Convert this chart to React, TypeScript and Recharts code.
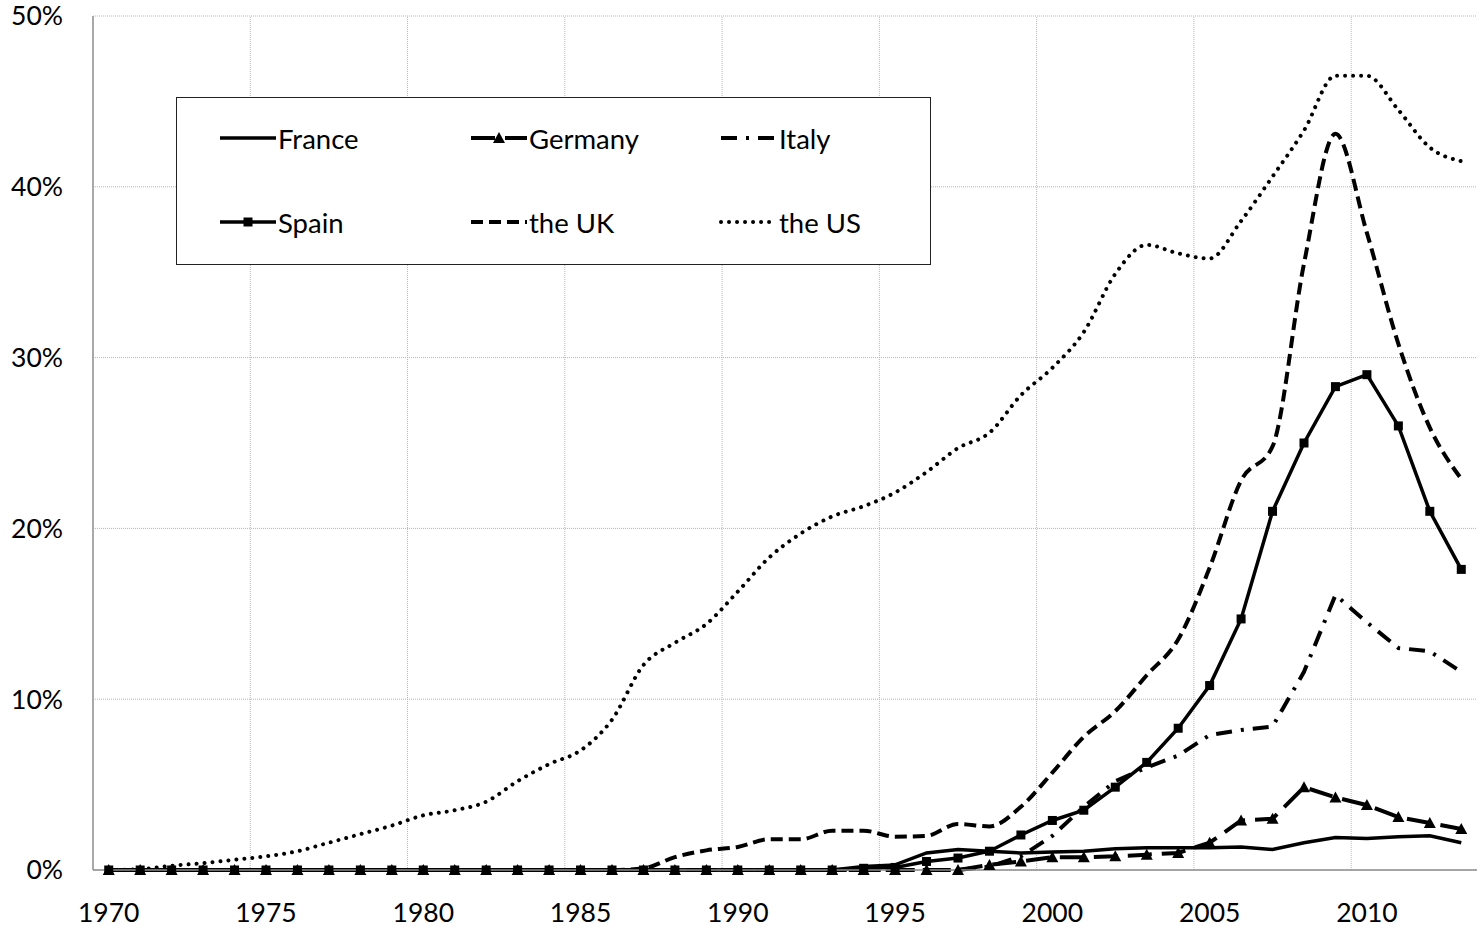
import { LineChart, Line, XAxis, YAxis, CartesianGrid, ReferenceLine, Legend } from "recharts";

const years = [
  1970, 1971, 1972, 1973, 1974, 1975, 1976, 1977, 1978, 1979,
  1980, 1981, 1982, 1983, 1984, 1985, 1986, 1987, 1988, 1989,
  1990, 1991, 1992, 1993, 1994, 1995, 1996, 1997, 1998, 1999,
  2000, 2001, 2002, 2003, 2004, 2005, 2006, 2007, 2008, 2009,
  2010, 2011, 2012, 2013
];

// shares in percent, one value per year
const france = [
  0, 0, 0, 0, 0, 0, 0, 0, 0, 0,
  0, 0, 0, 0, 0, 0, 0, 0, 0, 0,
  0, 0, 0, 0, 0.2, 0.3, 1.0, 1.2, 1.1, 1.0,
  1.05, 1.1, 1.25, 1.3, 1.3, 1.3, 1.35, 1.2, 1.6, 1.9,
  1.85, 1.95, 2.0, 1.6
];
const germany = [
  0, 0, 0, 0, 0, 0, 0, 0, 0, 0,
  0, 0, 0, 0, 0, 0, 0, 0, 0, 0,
  0, 0, 0, 0, 0, 0, 0, 0, 0.3, 0.5,
  0.75, 0.75, 0.8, 0.9, 1.0, 1.6, 2.9, 3.0, 4.85, 4.25,
  3.8, 3.1, 2.75, 2.4
];
const italy = [
  0, 0, 0, 0, 0, 0, 0, 0, 0, 0,
  0, 0, 0, 0, 0, 0, 0, 0, 0, 0,
  0, 0, 0, 0, 0, 0, 0, 0, 0.2, 0.8,
  2.0, 3.7, 5.2, 6.0, 6.7, 7.9, 8.2, 8.4, 11.6, 16.1,
  14.5, 13.0, 12.8, 11.6
];
const spain = [
  0, 0, 0, 0, 0, 0, 0, 0, 0, 0,
  0, 0, 0, 0, 0, 0, 0, 0, 0, 0,
  0, 0, 0, 0, 0.1, 0.15, 0.5, 0.7, 1.1, 2.05,
  2.9, 3.5, 4.85, 6.3, 8.3, 10.8, 14.7, 21.0, 25.0, 28.3,
  29.0, 26.0, 21.0, 17.6
];
const uk = [
  0, 0, 0, 0, 0, 0, 0, 0, 0, 0,
  0, 0, 0, 0, 0, 0, 0, 0.1, 0.75, 1.15,
  1.35, 1.8, 1.8, 2.3, 2.3, 1.95, 2.0, 2.7, 2.55, 3.7,
  5.7, 7.8, 9.3, 11.4, 13.5, 17.7, 22.8, 24.8, 35.5, 43.1,
  37.3, 30.8, 25.9, 22.9
];
const us = [
  0, 0.05, 0.25, 0.4, 0.6, 0.8, 1.1, 1.6, 2.1, 2.6,
  3.2, 3.5, 4.0, 5.2, 6.2, 7.0, 8.8, 12.0, 13.3, 14.4,
  16.3, 18.3, 19.7, 20.7, 21.3, 22.1, 23.3, 24.7, 25.6, 27.8,
  29.4, 31.5, 34.9, 36.6, 36.1, 35.8, 38.0, 40.6, 43.3, 46.5,
  46.5, 44.5, 42.3, 41.5
];

const yearTicks = [1970, 1975, 1980, 1985, 1990, 1995, 2000, 2005, 2010];
// Excel puts the vertical gridlines on the category boundaries, half a year left of the label
const gridYears = [1974.5, 1979.5, 1984.5, 1989.5, 1994.5, 1999.5, 2004.5, 2009.5];
const pctTicks = [0, 10, 20, 30, 40, 50];

const data = years.map((year, i) => ({
  year,
  France: france[i],
  Germany: germany[i],
  Italy: italy[i],
  Spain: spain[i],
  "the UK": uk[i],
  "the US": us[i]
}));

const FONT = "Lato, 'Open Sans', sans-serif";

function Square(props: any) {
  const { cx, cy, index } = props;
  if (cx == null || cy == null) return null;
  return <rect key={`sq-${index}`} x={cx - 4.5} y={cy - 4.5} width={9} height={9} fill="#000" />;
}

function Triangle(props: any) {
  const { cx, cy, index } = props;
  if (cx == null || cy == null) return null;
  return (
    <polygon
      key={`tr-${index}`}
      points={`${cx},${cy - 6} ${cx + 6},${cy + 5} ${cx - 6},${cy + 5}`}
      fill="#000"
    />
  );
}

type Series = {
  key: string;
  dash?: string;
  width: number;
  cap?: "round" | "butt";
  curve: "linear" | "monotone";
  marker?: "square" | "triangle";
};

// draw order: Germany under Spain so the squares cover the zero triangles
const SERIES: Series[] = [
  { key: "the US", dash: "0.01 8", width: 4, cap: "round", curve: "monotone" },
  { key: "the UK", dash: "12 6", width: 4, curve: "monotone" },
  { key: "Italy", dash: "16 9 3 9", width: 4, curve: "linear" },
  { key: "Germany", dash: "24 10", width: 4, curve: "linear", marker: "triangle" },
  { key: "France", width: 3.5, curve: "linear" },
  { key: "Spain", width: 3.5, curve: "linear", marker: "square" }
];

const LEGEND_ORDER = ["France", "Germany", "Italy", "Spain", "the UK", "the US"];

function LegendBox() {
  const colX = [43, 294, 544];
  const rowY = [40, 124];
  return (
    <div
      style={{
        width: 755,
        height: 168,
        boxSizing: "border-box",
        border: "1.5px solid #222",
        background: "#fff"
      }}
    >
      <svg width={752} height={165}>
        {LEGEND_ORDER.map((name, i) => {
          const s = SERIES.find((x) => x.key === name)!;
          const x0 = colX[i % 3];
          const y = rowY[Math.floor(i / 3)];
          return (
            <g key={name}>
              <line
                x1={x0}
                x2={x0 + 56}
                y1={y}
                y2={y}
                stroke="#000"
                strokeWidth={s.width}
                strokeDasharray={s.dash}
                strokeLinecap={s.cap || "butt"}
              />
              {s.marker === "square" && <Square cx={x0 + 28} cy={y} index={0} />}
              {s.marker === "triangle" && <Triangle cx={x0 + 28} cy={y} index={0} />}
              <text
                x={x0 + 58}
                y={y}
                dominantBaseline="central"
                fontFamily={FONT}
                fontSize={27.5}
                fill="#000"
              >
                {name}
              </text>
            </g>
          );
        })}
      </svg>
    </div>
  );
}

export default function App() {
  return (
    <div style={{ position: "absolute", left: 0, top: 0, background: "#fff" }}>
      <LineChart
        width={1484}
        height={933}
        data={data}
        margin={{ top: 16, right: 7, bottom: 0, left: 0 }}
      >
        <CartesianGrid vertical={false} stroke="#b5b5b5" strokeDasharray="1 1" />
        {gridYears.map((g) => (
          <ReferenceLine key={g} x={g} stroke="#b5b5b5" strokeDasharray="1 1" />
        ))}
        <XAxis
          dataKey="year"
          type="number"
          domain={[1969.5, 2013.5]}
          ticks={yearTicks}
          interval={0}
          allowDataOverflow
          height={63}
          tickLine={false}
          tickSize={0}
          tickMargin={33}
          axisLine={{ stroke: "#8c8c8c", strokeWidth: 1.5 }}
          tick={{ fill: "#000", fontSize: 26.5, fontFamily: FONT }}
        />
        <YAxis
          domain={[0, 50]}
          ticks={pctTicks}
          width={93}
          tickLine={false}
          tickSize={0}
          tickMargin={30}
          tickFormatter={(v: number) => `${v}%`}
          axisLine={{ stroke: "#8c8c8c", strokeWidth: 1.5 }}
          tick={{ fill: "#000", fontSize: 26.5, fontFamily: FONT }}
        />
        <Legend
          layout="horizontal"
          verticalAlign="middle"
          align="center"
          content={() => <LegendBox />}
          wrapperStyle={{ left: 176, top: 97, width: 755, height: 168 }}
        />
        {SERIES.map((s) => (
          <Line
            key={s.key}
            type={s.curve}
            dataKey={s.key}
            stroke="#000"
            strokeWidth={s.width}
            strokeDasharray={s.dash}
            strokeLinecap={s.cap || "butt"}
            dot={s.marker === "square" ? Square : s.marker === "triangle" ? Triangle : false}
            activeDot={false}
            isAnimationActive={false}
          />
        ))}
      </LineChart>
    </div>
  );
}
